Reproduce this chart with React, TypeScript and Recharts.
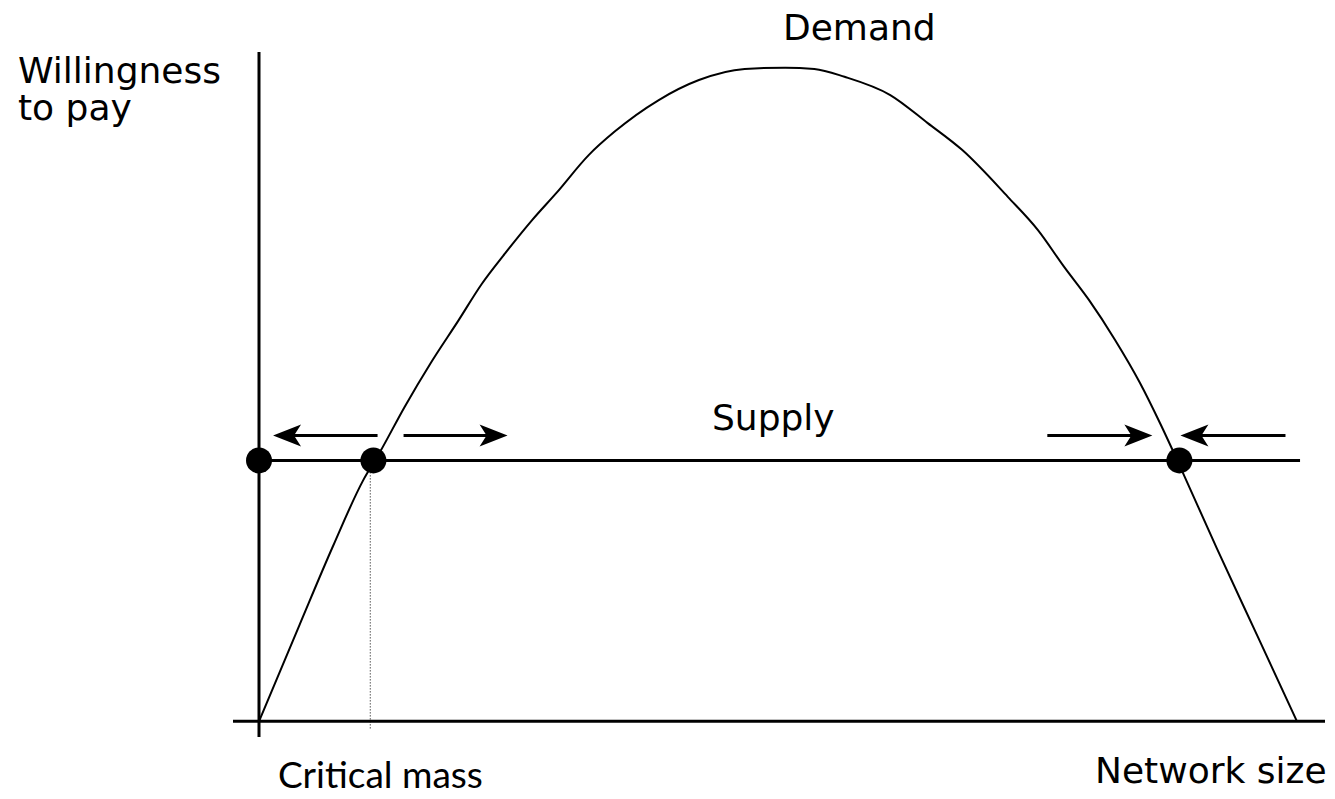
import React from 'react';
import { ComposedChart, Line, Scatter, XAxis, YAxis, ReferenceLine } from 'recharts';

// demand curve (network size 0..100, willingness to pay 0..100)
const networkSize = [
    0, 3.9, 7.1, 10.0, 11.6, 14.0, 16.5, 19.2, 21.4, 23.7, 26.3, 28.6, 31.7, 34.2, 38.4, 42.3,
    46.7, 50.6, 53.4, 56.3, 60.7, 64.3, 67.6, 72.0, 74.9, 77.4, 79.8, 82.3, 84.7, 86.7, 88.3,
    92.1, 96.0, 99.8,
];
const willingnessToPay = [
    0, 14.8, 26.8, 36.9, 41.2, 48.2, 54.9, 61.5, 67.0, 71.8, 76.9, 81.0, 86.8, 90.4, 95.2, 98.3,
    100, 100.2, 100, 98.8, 96.0, 91.7, 87.6, 80.4, 75.3, 69.7, 64.6, 58.5, 51.9, 45.5, 40,
    26.5, 13.1, 0,
];

const supplyLevel = 40;
const supplyEnd = 100.1;
const criticalMass = 10.7;
const equilibriumX = [0, 11.0, 88.5];

// arrows just above the supply line: tail -> tip
const arrowY = 43.8;
const arrowTails = [11.4, 13.9, 75.8, 98.7];
const arrowTips = [1.35, 23.9, 85.9, 88.6];

const demand = networkSize.map((x, i) => ({ x, y: willingnessToPay[i] }));
const equilibria = equilibriumX.map((x) => ({ x, y: supplyLevel }));

const Dot = (props: any) => <circle cx={props.cx} cy={props.cy} r={13} fill="#000" />;

const Arrow = (props: any) => {
    const { x1, y1, x2, y2 } = props;
    const dir = x2 > x1 ? 1 : -1;
    const head = [
        [x2, y2],
        [x2 - dir * 28, y2 - 11],
        [x2 - dir * 21, y2],
        [x2 - dir * 28, y2 + 11],
    ]
        .map((p) => p.join(','))
        .join(' ');
    return (
        <g>
            <line x1={x1} y1={y1} x2={x2 - dir * 20} y2={y2} stroke="#000" strokeWidth={3} />
            <polygon points={head} fill="#000" />
        </g>
    );
};

const pixelFont = { fontFamily: '"DejaVu Sans", sans-serif', fontSize: 36, fill: '#000' };

export default function App() {
    return (
        <div style={{ position: 'relative', width: 1319, height: 791, background: '#fff' }}>
            <ComposedChart width={1319} height={783} margin={{ top: 44, right: 2, bottom: 54, left: 225 }}>
                <XAxis type="number" dataKey="x" domain={[-2.5, 102.5]} allowDataOverflow hide />
                <YAxis type="number" dataKey="y" domain={[-2.4, 102.6]} allowDataOverflow hide />
                <ReferenceLine x={0} stroke="#000" strokeWidth={3} />
                <ReferenceLine y={0} stroke="#000" strokeWidth={3} />
                <ReferenceLine
                    segment={[{ x: 0, y: supplyLevel }, { x: supplyEnd, y: supplyLevel }]}
                    stroke="#000"
                    strokeWidth={3}
                />
                <ReferenceLine
                    segment={[{ x: criticalMass, y: supplyLevel }, { x: criticalMass, y: -1.3 }]}
                    stroke="#000"
                    strokeWidth={1}
                    strokeDasharray="1 2"
                />
                {arrowTails.map((t, i) => (
                    <ReferenceLine
                        key={i}
                        segment={[{ x: t, y: arrowY }, { x: arrowTips[i], y: arrowY }]}
                        shape={Arrow}
                    />
                ))}
                <Line
                    data={demand}
                    dataKey="y"
                    type="monotone"
                    stroke="#000"
                    strokeWidth={2}
                    dot={false}
                    isAnimationActive={false}
                />
                <Scatter data={equilibria} dataKey="y" shape={Dot} isAnimationActive={false} />
            </ComposedChart>
            <svg
                width={1319}
                height={791}
                style={{ position: 'absolute', left: 0, top: 0, pointerEvents: 'none', overflow: 'visible' }}
            >
                <g transform="translate(-8,-8)">
                    <text x={18} y={83} {...pixelFont}>Willingness</text>
                    <text x={18} y={120} {...pixelFont}>to pay</text>
                    <text x={783} y={40} {...pixelFont}>Demand</text>
                    <text x={712} y={430} {...pixelFont}>Supply</text>
                    <text x={1095} y={783} {...pixelFont}>Network size</text>
                    <text x={278} y={788} fontFamily="Lato, sans-serif" fontSize={37} fill="#000">
                        Critical mass
                    </text>
                </g>
            </svg>
        </div>
    );
}
